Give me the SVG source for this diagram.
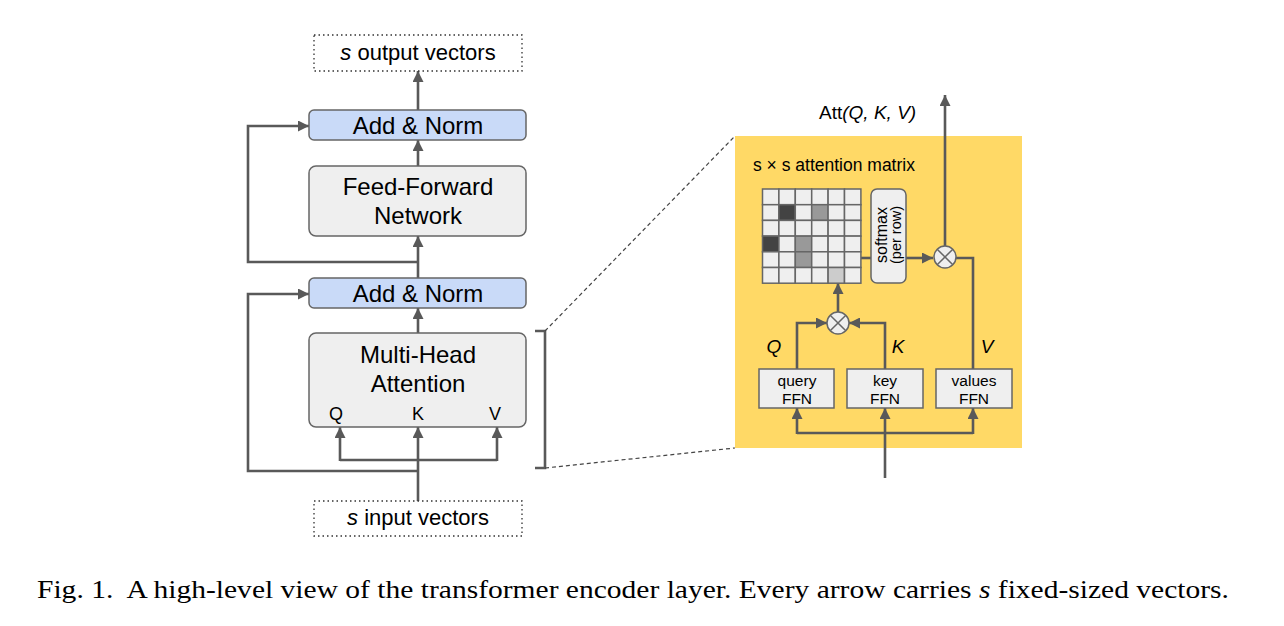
<svg xmlns="http://www.w3.org/2000/svg" width="1284" height="626" viewBox="0 0 1284 626">
<style>
text{font-family:"Liberation Sans",Arial,sans-serif;fill:#000}
.box{fill:#efefef;stroke:#666;stroke-width:1.5}
.norm{fill:#c9daf8;stroke:#666;stroke-width:1.5}
.dot{fill:#fff;stroke:#333;stroke-width:1.3;stroke-dasharray:1.5 3}
.ln{fill:none;stroke:#595959;stroke-width:2.6}
.ar{fill:none;stroke:#595959;stroke-width:2.6;marker-end:url(#ah)}
.cell{fill:#efefef;stroke:#666;stroke-width:1.5}
.dash{fill:none;stroke:#444;stroke-width:1.2;stroke-dasharray:4 3}
.it{font-style:italic}
</style>
<defs>
<marker id="ah" viewBox="0 0 10 10" refX="10" refY="5" markerWidth="12" markerHeight="11" markerUnits="userSpaceOnUse" orient="auto">
<path d="M0,0 L10,5 L0,10 z" fill="#595959"/>
</marker>
</defs>
<rect width="1284" height="626" fill="#fff"/>

<g id="attention-panel-bg">
<rect x="735" y="136" width="287" height="312" fill="#ffd966"/>
</g>

<g id="connectors">
<!-- left -->
<path class="ar" d="M418,110 V71"/>
<path class="ar" d="M418,166 V140"/>
<path class="ar" d="M418,278 V236"/>
<path class="ar" d="M418,262 H248 V126 H309"/>
<path class="ar" d="M418,333 V308"/>
<path class="ar" d="M418,471 H248 V294 H309"/>
<path class="ar" d="M418,501 V427"/>
<path class="ln" d="M340,460 H497"/>
<path class="ar" d="M340,461 V427"/>
<path class="ar" d="M497,461 V427"/>
<path class="ln" d="M535,331 H545 V468 H535" stroke-width="1.6"/>
<path class="dash" d="M545,331 L735,136"/>
<path class="dash" d="M545,468 L735,448"/>
<!-- right -->
<path class="ar" d="M945,246 V95"/>
<path class="ln" d="M861,258 H871"/>
<path class="ar" d="M906,258 H933"/>
<path class="ln" d="M956,258 H973 V369"/>
<path class="ar" d="M838,312 V283"/>
<path class="ar" d="M797,369 V323 H827"/>
<path class="ar" d="M885,369 V323 H849"/>
<path class="ar" d="M885,478 V408"/>
<path class="ln" d="M797,433 H973"/>
<path class="ar" d="M797,434 V408"/>
<path class="ar" d="M973,434 V408"/>
</g>

<g id="output">
<rect class="dot" x="314" y="35" width="208" height="36"/>
<text x="418" y="60" font-size="22" text-anchor="middle"><tspan class="it">s</tspan> output vectors</text>
</g>
<g id="addnorm1">
<rect class="norm" x="309" y="110" width="217" height="30" rx="5"/>
<text x="418" y="134" font-size="24" text-anchor="middle">Add &amp; Norm</text>
</g>
<g id="ffn">
<rect class="box" x="309" y="166" width="217" height="70" rx="7"/>
<text x="418" y="195" font-size="24" text-anchor="middle">Feed-Forward</text>
<text x="418" y="224" font-size="24" text-anchor="middle">Network</text>
</g>
<g id="addnorm2">
<rect class="norm" x="309" y="278" width="217" height="30" rx="5"/>
<text x="418" y="302" font-size="24" text-anchor="middle">Add &amp; Norm</text>
</g>
<g id="mha">
<rect class="box" x="309" y="333" width="217" height="94" rx="7"/>
<text x="418" y="363" font-size="24" text-anchor="middle">Multi-Head</text>
<text x="418" y="392" font-size="24" text-anchor="middle">Attention</text>
<text x="336" y="420" font-size="18" text-anchor="middle">Q</text>
<text x="418" y="420" font-size="18" text-anchor="middle">K</text>
<text x="495" y="420" font-size="18" text-anchor="middle">V</text>
</g>
<g id="input">
<rect class="dot" x="314" y="501" width="208" height="35"/>
<text x="418" y="525" font-size="22" text-anchor="middle"><tspan class="it">s</tspan> input vectors</text>
</g>

<g id="att-label">
<text x="819" y="119" font-size="19">Att<tspan class="it">(Q, K, V)</tspan></text>
</g>
<g id="matrix-label">
<text x="753" y="171" font-size="17.5">s × s attention matrix</text>
</g>
<g id="matrix">
<g transform="translate(762.5,189)">
<rect class="cell" x="0" y="0" width="16.4" height="15.7"/><rect class="cell" x="16.4" y="0" width="16.4" height="15.7"/><rect class="cell" x="32.8" y="0" width="16.4" height="15.7"/><rect class="cell" x="49.2" y="0" width="16.4" height="15.7"/><rect class="cell" x="65.6" y="0" width="16.4" height="15.7"/><rect class="cell" x="82" y="0" width="16.4" height="15.7"/>
<rect class="cell" x="0" y="15.7" width="16.4" height="15.7"/><rect class="cell" x="16.4" y="15.7" width="16.4" height="15.7" style="fill:#434343"/><rect class="cell" x="32.8" y="15.7" width="16.4" height="15.7"/><rect class="cell" x="49.2" y="15.7" width="16.4" height="15.7" style="fill:#999"/><rect class="cell" x="65.6" y="15.7" width="16.4" height="15.7"/><rect class="cell" x="82" y="15.7" width="16.4" height="15.7"/>
<rect class="cell" x="0" y="31.4" width="16.4" height="15.7"/><rect class="cell" x="16.4" y="31.4" width="16.4" height="15.7"/><rect class="cell" x="32.8" y="31.4" width="16.4" height="15.7"/><rect class="cell" x="49.2" y="31.4" width="16.4" height="15.7"/><rect class="cell" x="65.6" y="31.4" width="16.4" height="15.7"/><rect class="cell" x="82" y="31.4" width="16.4" height="15.7"/>
<rect class="cell" x="0" y="47.1" width="16.4" height="15.7" style="fill:#434343"/><rect class="cell" x="16.4" y="47.1" width="16.4" height="15.7"/><rect class="cell" x="32.8" y="47.1" width="16.4" height="15.7" style="fill:#999"/><rect class="cell" x="49.2" y="47.1" width="16.4" height="15.7"/><rect class="cell" x="65.6" y="47.1" width="16.4" height="15.7"/><rect class="cell" x="82" y="47.1" width="16.4" height="15.7"/>
<rect class="cell" x="0" y="62.8" width="16.4" height="15.7"/><rect class="cell" x="16.4" y="62.8" width="16.4" height="15.7"/><rect class="cell" x="32.8" y="62.8" width="16.4" height="15.7" style="fill:#999"/><rect class="cell" x="49.2" y="62.8" width="16.4" height="15.7"/><rect class="cell" x="65.6" y="62.8" width="16.4" height="15.7"/><rect class="cell" x="82" y="62.8" width="16.4" height="15.7"/>
<rect class="cell" x="0" y="78.5" width="16.4" height="15.7"/><rect class="cell" x="16.4" y="78.5" width="16.4" height="15.7"/><rect class="cell" x="32.8" y="78.5" width="16.4" height="15.7"/><rect class="cell" x="49.2" y="78.5" width="16.4" height="15.7"/><rect class="cell" x="65.6" y="78.5" width="16.4" height="15.7" style="fill:#ccc"/><rect class="cell" x="82" y="78.5" width="16.4" height="15.7"/>
</g>
</g>
<g id="softmax">
<rect class="box" x="871" y="189" width="35" height="94" rx="6"/>
<g transform="translate(888,235) rotate(-90)">
<text x="0" y="-1" font-size="16" text-anchor="middle">softmax</text>
<text x="0" y="12.5" font-size="14.5" text-anchor="middle">(per row)</text>
</g>
</g>
<g id="mult-out">
<circle cx="945" cy="257" r="11" fill="#efefef" stroke="#666" stroke-width="1.5"/>
<path d="M937.2,249.2 L952.8,264.8 M952.8,249.2 L937.2,264.8" stroke="#666" stroke-width="1.5"/>
</g>
<g id="mult-qk">
<circle cx="838" cy="323" r="11" fill="#efefef" stroke="#666" stroke-width="1.5"/>
<path d="M830.2,315.2 L845.8,330.8 M845.8,315.2 L830.2,330.8" stroke="#666" stroke-width="1.5"/>
</g>
<g id="qkv-labels">
<text x="774" y="353" font-size="19" class="it" text-anchor="middle">Q</text>
<text x="898" y="353" font-size="19" class="it" text-anchor="middle">K</text>
<text x="987" y="353" font-size="19" class="it" text-anchor="middle">V</text>
</g>
<g id="query-ffn">
<rect class="box" x="759" y="369" width="75" height="39"/>
<text x="797" y="386" font-size="15.5" text-anchor="middle">query</text>
<text x="797" y="404" font-size="15.5" text-anchor="middle">FFN</text>
</g>
<g id="key-ffn">
<rect class="box" x="847" y="369" width="76" height="39"/>
<text x="885" y="386" font-size="15.5" text-anchor="middle">key</text>
<text x="885" y="404" font-size="15.5" text-anchor="middle">FFN</text>
</g>
<g id="values-ffn">
<rect class="box" x="936" y="369" width="76" height="39"/>
<text x="974" y="386" font-size="15.5" text-anchor="middle">values</text>
<text x="974" y="404" font-size="15.5" text-anchor="middle">FFN</text>
</g>

<g id="caption">
<text x="37" y="598" font-size="25" style="font-family:'Liberation Serif','Times New Roman',serif" textLength="1192" lengthAdjust="spacingAndGlyphs">Fig. 1.&#160; A high-level view of the transformer encoder layer. Every arrow carries <tspan font-style="italic">s</tspan> fixed-sized vectors.</text>
</g>
</svg>
